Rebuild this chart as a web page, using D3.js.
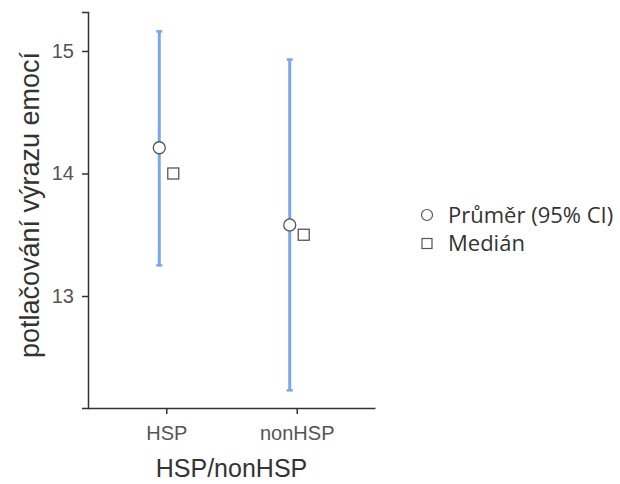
<!DOCTYPE html>
<html>
<head>
<meta charset="utf-8">
<script src="https://cdn.jsdelivr.net/npm/d3@7"></script>
<style>
  body { margin: 0; background: #fff; }
  svg { display: block; }
</style>
</head>
<body>
<div id="chart"></div>
<script>
// DATA
var groups = ["HSP", "nonHSP"];
var means = [14.21, 13.58];
var ciLow = [13.25, 12.23];
var ciHigh = [15.16, 14.93];
var medians = [14.0, 13.5];
var yTicks = [13, 14, 15];
var legendLabels = ["Průměr (95% CI)", "Medián"];

var width = 620, height = 484;
var plot = { left: 88, right: 375, top: 12, bottom: 408 };

var svg = d3.select("#chart").append("svg")
  .attr("width", width)
  .attr("height", height);

var x = d3.scalePoint()
  .domain(groups)
  .range([plot.left, plot.right])
  .padding(0.6);

var y = d3.scaleLinear()
  .domain([12.086, 15.318])
  .range([plot.bottom, plot.top]);

var dodge = 7;
var axisColor = "#333";
var barColor = "#7ba7ea";
var labelFont = "Liberation Sans, Arial, sans-serif";

// y axis
var yAxis = svg.append("g")
  .attr("transform", "translate(" + plot.left + ",0)")
  .call(d3.axisLeft(y).tickValues(yTicks).tickSize(6).tickPadding(8).tickFormat(d3.format("d")));
yAxis.select(".domain").attr("stroke", axisColor).attr("stroke-width", 1.5);
yAxis.selectAll(".tick line").attr("stroke", axisColor).attr("stroke-width", 1.5);
yAxis.selectAll(".tick text")
  .attr("fill", "#555")
  .style("font-family", labelFont)
  .style("font-size", "20px");

// x axis
var xAxis = svg.append("g")
  .attr("transform", "translate(0," + plot.bottom + ")")
  .call(d3.axisBottom(x).tickSize(6).tickPadding(12).tickSizeOuter(0));
xAxis.select(".domain").attr("stroke", axisColor).attr("stroke-width", 1.5);
xAxis.selectAll(".tick line").attr("stroke", axisColor).attr("stroke-width", 1.5);
xAxis.selectAll(".tick text")
  .attr("fill", "#555")
  .style("font-family", labelFont)
  .style("font-size", "20px");

// axis titles
svg.append("text")
  .attr("x", (plot.left + plot.right) / 2)
  .attr("y", 477)
  .attr("text-anchor", "middle")
  .attr("fill", "#333")
  .style("font-family", labelFont)
  .style("font-size", "25px")
  .text("HSP/nonHSP");

svg.append("text")
  .attr("transform", "translate(39," + 205 + ") rotate(-90)")
  .attr("text-anchor", "middle")
  .attr("fill", "#333")
  .style("font-family", labelFont)
  .style("font-size", "27px")
  .text("potlačování výrazu emocí");

// error bars
var idx = d3.range(groups.length);
var bars = svg.append("g");
bars.selectAll("line.ci")
  .data(idx)
  .enter()
  .append("line")
  .attr("class", "ci")
  .attr("x1", function (i) { return x(groups[i]) - dodge; })
  .attr("x2", function (i) { return x(groups[i]) - dodge; })
  .attr("y1", function (i) { return y(ciLow[i]); })
  .attr("y2", function (i) { return y(ciHigh[i]); })
  .attr("stroke", barColor)
  .attr("stroke-width", 3);

[ciLow, ciHigh].forEach(function (arr) {
  bars.selectAll(null)
    .data(idx)
    .enter()
    .append("line")
    .attr("x1", function (i) { return x(groups[i]) - dodge - 3; })
    .attr("x2", function (i) { return x(groups[i]) - dodge + 3; })
    .attr("y1", function (i) { return y(arr[i]); })
    .attr("y2", function (i) { return y(arr[i]); })
    .attr("stroke", barColor)
    .attr("stroke-width", 2.5);
});

// medians
svg.append("g").selectAll("rect")
  .data(idx)
  .enter()
  .append("rect")
  .attr("x", function (i) { return x(groups[i]) + dodge - 5.5; })
  .attr("y", function (i) { return y(medians[i]) - 5.5; })
  .attr("width", 11)
  .attr("height", 11)
  .attr("fill", "#fff")
  .attr("stroke", "#555")
  .attr("stroke-width", 1.3);

// means
svg.append("g").selectAll("circle")
  .data(idx)
  .enter()
  .append("circle")
  .attr("cx", function (i) { return x(groups[i]) - dodge; })
  .attr("cy", function (i) { return y(means[i]); })
  .attr("r", 6)
  .attr("fill", "#fff")
  .attr("stroke", "#555")
  .attr("stroke-width", 1.3);

// legend
var legend = svg.append("g").attr("transform", "translate(427,215)");
legend.append("circle")
  .attr("cx", 0).attr("cy", 0).attr("r", 5.5)
  .attr("fill", "#fff").attr("stroke", "#555").attr("stroke-width", 1.2);
legend.append("rect")
  .attr("x", -5).attr("y", 23.5).attr("width", 10).attr("height", 10)
  .attr("fill", "#fff").attr("stroke", "#555").attr("stroke-width", 1.2);
legend.selectAll("text")
  .data(legendLabels)
  .enter()
  .append("text")
  .attr("x", 21)
  .attr("y", function (d, i) { return i * 28.5; })
  .attr("dy", "0.35em")
  .attr("fill", "#333")
  .style("font-family", "Open Sans, Noto Sans, sans-serif")
  .style("font-size", "22px")
  .text(function (d) { return d; });
</script>
</body>
</html>
